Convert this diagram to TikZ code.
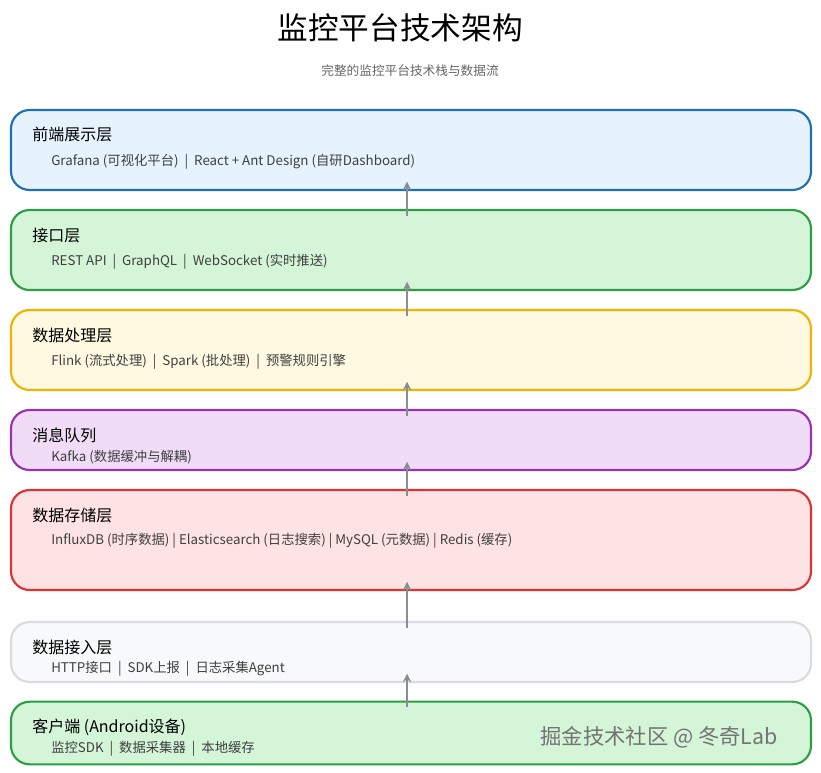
\documentclass[tikz,border=0pt]{standalone}
\usepackage{fontspec}
\setmainfont{Noto Sans CJK SC}
\usetikzlibrary{positioning}
\definecolor{bluefill}{HTML}{E6F3FD}\definecolor{blueline}{HTML}{1F6FB5}
\definecolor{greenfill}{HTML}{D4F5D8}\definecolor{greenline}{HTML}{2E9E44}
\definecolor{yellowfill}{HTML}{FEF9E0}\definecolor{yellowline}{HTML}{F0B400}
\definecolor{purplefill}{HTML}{F1DCF7}\definecolor{purpleline}{HTML}{9B30B0}
\definecolor{redfill}{HTML}{FDE3E3}\definecolor{redline}{HTML}{DD3333}
\definecolor{grayfill}{HTML}{F8F9FA}\definecolor{grayline}{HTML}{D8DBDF}
\definecolor{arrowgray}{HTML}{868E96}
\begin{document}
\begin{tikzpicture}[x=0.75pt, y=-0.75pt]
  \fill [white] (0, 0) rectangle (821, 772);  % Rand festlegen.

  \tikzstyle{layer}=[draw, rounded corners=14pt, line width=1.6pt, minimum width=600pt, inner sep=0pt]
  \tikzstyle{layertitle}=[anchor=west, font=\fontsize{12}{14}\selectfont, inner sep=0pt]
  \tikzstyle{items}=[anchor=west, font=\fontsize{10}{12}\selectfont, text=black!75, inner sep=0pt]
  \tikzstyle{flow}=[->, >=stealth, line width=1.8pt, arrowgray, shorten <=-5pt, shorten >=-7pt]

  \node[font=\fontsize{23}{26}\selectfont] (title) at (400, 28) {监控平台技术架构};
  \node[font=\fontsize{9.5}{11}\selectfont, text=black!60] (subtitle) at (410, 71) {完整的监控平台技术栈与数据流};

  \node[layer, fill=bluefill, draw=blueline, minimum height=60pt]     (front)   at (411, 150) {};
  \node[layer, fill=greenfill, draw=greenline, minimum height=60pt]   (api)     at (411, 250) {};
  \node[layer, fill=yellowfill, draw=yellowline, minimum height=60pt] (proc)    at (411, 350) {};
  \node[layer, fill=purplefill, draw=purpleline, minimum height=45pt] (queue)   at (411, 440) {};
  \node[layer, fill=redfill, draw=redline, minimum height=75pt]       (store)   at (411, 540) {};
  \node[layer, fill=grayfill, draw=grayline, minimum height=45pt]     (ingest)  at (411, 652) {};
  \node[layer, fill=greenfill, draw=greenline, minimum height=47pt]   (client)  at (411, 733) {};

  \node[layertitle] (t1) at (32, 134) {前端展示层};
  \node[items]      (i1) at (51, 162) {Grafana (可视化平台) \ | \ React + Ant Design (自研Dashboard)};
  \node[layertitle] (t2) at (32, 235) {接口层};
  \node[items]      (i2) at (51, 262) {REST API \ | \ GraphQL \ | \ WebSocket (实时推送)};
  \node[layertitle] (t3) at (32, 335) {数据处理层};
  \node[items]      (i3) at (51, 362) {Flink (流式处理) \ | \ Spark (批处理) \ | \ 预警规则引擎};
  \node[layertitle] (t4) at (32, 435) {消息队列};
  \node[items]      (i4) at (51, 457) {Kafka (数据缓冲与解耦)};
  \node[layertitle] (t5) at (32, 515) {数据存储层};
  \node[items]      (i5) at (51, 541) {InfluxDB (时序数据) | Elasticsearch (日志搜索) | MySQL (元数据) | Redis (缓存)};
  \node[layertitle] (t6) at (32, 647) {数据接入层};
  \node[items]      (i6) at (51, 669) {HTTP接口 \ | \ SDK上报 \ | \ 日志采集Agent};
  \node[layertitle] (t7) at (32, 727) {客户端 (Android设备)};
  \node[items]      (i7) at (51, 749) {监控SDK \ | \ 数据采集器 \ | \ 本地缓存};

  \node[font=\fontsize{16}{18}\selectfont, text=black!55] (mark) at (659, 737) {掘金技术社区 @ 冬奇Lab};

  \draw[flow] ([xshift=-3pt]api.north)    -- ([xshift=-3pt]front.south);
  \draw[flow] ([xshift=-3pt]proc.north)   -- ([xshift=-3pt]api.south);
  \draw[flow] ([xshift=-3pt]queue.north)  -- ([xshift=-3pt]proc.south);
  \draw[flow] ([xshift=-3pt]store.north)  -- ([xshift=-3pt]queue.south);
  \draw[flow] ([xshift=-3pt]ingest.north) -- ([xshift=-3pt]store.south);
  \draw[flow] ([xshift=-3pt]client.north) -- ([xshift=-3pt]ingest.south);
\end{tikzpicture}
\end{document}
